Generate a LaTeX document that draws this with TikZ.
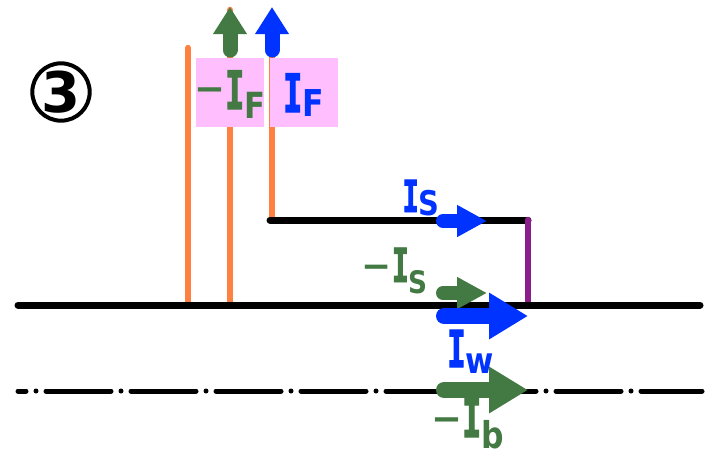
\documentclass[tikz,border=0pt]{standalone}
\usepackage{fontspec}
\usetikzlibrary{arrows.meta}
\newfontfamily\lf{DejaVu Sans}
\newfontfamily\lfs[FakeStretch=0.85]{DejaVu Sans}
\newfontfamily\lfI[FakeStretch=0.6,FakeBold=2]{DejaVu Sans Mono}
\definecolor{cor}{RGB}{255,128,64}
\definecolor{cpk}{RGB}{255,191,255}
\definecolor{cgr}{RGB}{67,121,67}
\definecolor{cbl}{RGB}{0,51,255}
\definecolor{cpu}{RGB}{140,30,140}
\newcommand\mn[2]{{\fontsize{#1}{#1}\selectfont\raisebox{#2}{−}}}
\newcommand\Ii[1]{{\lfI\bfseries\fontsize{#1}{#1}\selectfont I}}
\newcommand\sbs[3]{\raisebox{-#2}{\lfs\bfseries\fontsize{#1}{#1}\selectfont #3}}
\tikzset{
  lbl/.style={inner sep=0pt, anchor=base west, font=\lf\bfseries},
  wire/.style={line width=7pt, line cap=round},
  ora/.style={cor, line width=6.5pt, line cap=round},
  pinkbox/.style={fill=cpk, draw=none},
  fatup/.style={line width=15pt, line cap=round, -{Triangle[length=27pt,width=32pt]}},
  fatS/.style={line width=14pt, line cap=round, -{Triangle[length=30pt,width=30pt]}},
  fatB/.style={line width=16pt, line cap=round, -{Triangle[length=39pt,width=44pt]}},
}
\begin{document}
\begin{tikzpicture}[x=1pt,y=-1pt]
\useasboundingbox (0,0) rectangle (720,456);
% circled number
\node[circle, draw, line width=4pt, minimum size=50pt, inner sep=0pt,
      font=\lf\bfseries\fontsize{56}{56}\selectfont] (num) at (61,92) {3};
% coordinates
\coordinate (o1t) at (188,48);  \coordinate (o1b) at (188,305);
\coordinate (o2t) at (230,10);  \coordinate (o2b) at (230,305);
\coordinate (o3t) at (272,40);  \coordinate (o3b) at (272,220);
\coordinate (tl) at (270,220);  \coordinate (tr) at (528,220);
\coordinate (pb) at (528,303);
\coordinate (ml) at (18,305);   \coordinate (mr) at (700,305);
\coordinate (dl) at (18,391);   \coordinate (dr) at (702,391);
% orange conductors
\draw[ora] (o1t) -- (o1b);
\draw[ora] (o2t) -- (o2b);
\draw[ora] (o3t) -- (o3b);
% black lines and purple link
\draw[wire] (tl) -- (tr);
\draw[cpu, line width=6.5pt, line cap=round] (tr) -- (pb);
\draw[wire] (ml) -- (mr);
% pink boxes
\fill[pinkbox] (196,58) rectangle (264,127);
\fill[pinkbox] (270,58) rectangle (338,127);
% up arrows
\coordinate (ga0) at (230,50); \coordinate (ga1) at (230,7);
\coordinate (ba0) at (272,50); \coordinate (ba1) at (272,7);
\draw[fatup, cgr] (ga0) -- (ga1);
\draw[fatup, cbl] (ba0) -- (ba1);
% dash-dot line
\draw[line width=5pt, line cap=round, dash pattern=on 65pt off 10pt on 0pt off 10pt, dash phase=57pt] (dl) -- (dr);
% horizontal arrows
\coordinate (is0) at (443,221); \coordinate (is1) at (487,221);
\coordinate (ms0) at (443,293); \coordinate (ms1) at (487,293);
\coordinate (iw0) at (444,316); \coordinate (iw1) at (528,316);
\coordinate (ib0) at (444,390); \coordinate (ib1) at (528,390);
\draw[fatS, cbl] (is0) -- (is1);
\draw[fatS, cgr] (ms0) -- (ms1);
\draw[fatB, cbl] (iw0) -- (iw1);
\draw[fatB, cgr] (ib0) -- (ib1);
% labels
\node[lbl, text=cgr] (lmF) at (194,109) {\mn{37}{8pt}\Ii{53}\sbs{36}{9pt}{F}};
\node[lbl, text=cbl] (lF) at (283,112) {\Ii{53}\sbs{37}{4pt}{F}};
\node[lbl, text=cbl] (lS) at (402.5,212) {\Ii{44}\sbs{34}{3pt}{S}};
\node[lbl, text=cgr] (lmS) at (361.5,282) {\mn{36}{4pt}\Ii{47}\sbs{31}{11pt}{S}};
\node[lbl, text=cbl] (lw) at (447,367) {\Ii{51}\sbs{36}{6pt}{w}};
\node[lbl, text=cgr] (lmb) at (431,437) {\mn{37}{6pt}\Ii{53}\sbs{37}{11pt}{b}};
\end{tikzpicture}
\end{document}
